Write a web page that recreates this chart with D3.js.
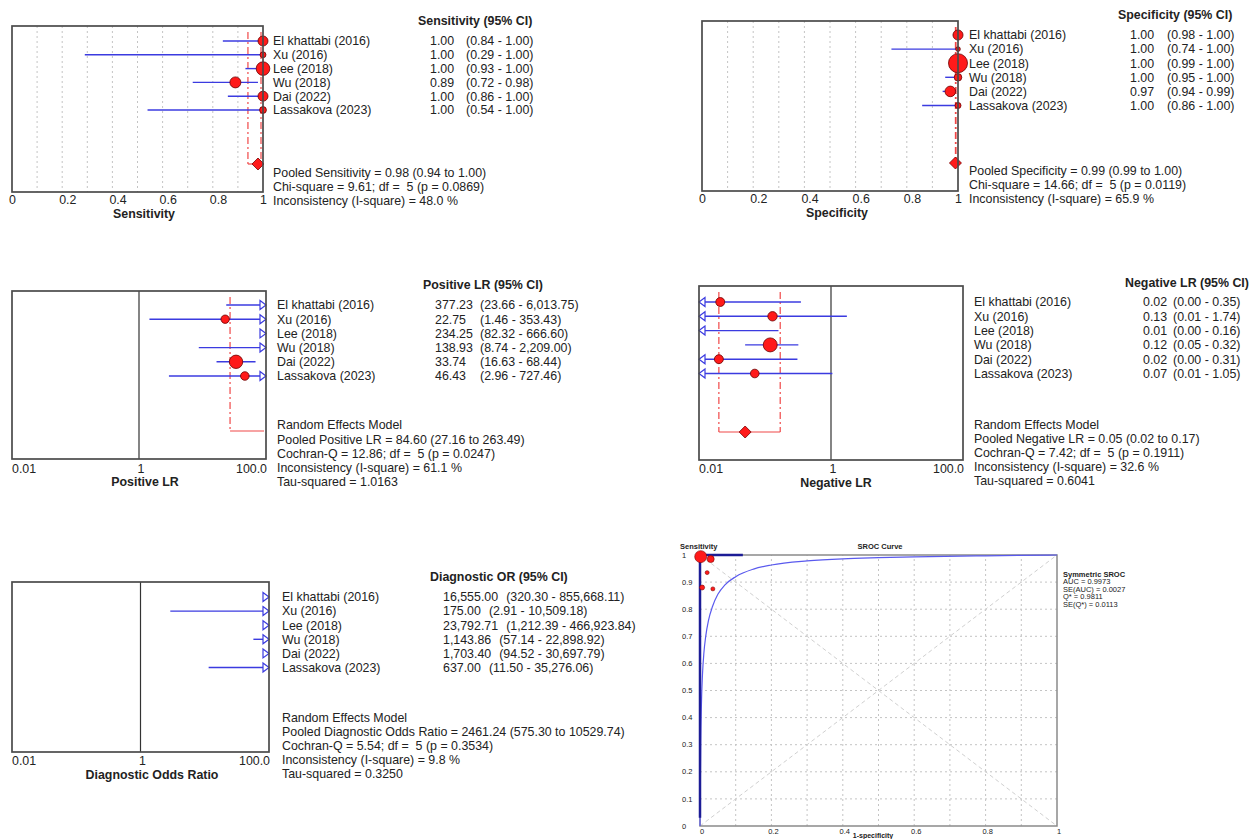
<!DOCTYPE html>
<html>
<head>
<meta charset="utf-8">
<script src="https://cdn.jsdelivr.net/npm/d3@7"></script>
<style>
  body { margin: 0; background: #fff; }
  svg text { font-family: Arial, "Liberation Sans", sans-serif; fill: #222; white-space: pre; }
</style>
</head>
<body>
<div id="chart"></div>
<script>
// studies, top to bottom in every forest plot
var studies = ["El khattabi (2016)", "Xu (2016)", "Lee (2018)", "Wu (2018)", "Dai (2022)", "Lassakova (2023)"];

// sensitivity
var sensEst = [1.00, 1.00, 1.00, 0.89, 1.00, 1.00];
var sensLo  = [0.84, 0.29, 0.93, 0.72, 0.86, 0.54];
var sensHi  = [1.00, 1.00, 1.00, 0.98, 1.00, 1.00];
var sensWt  = [54, 19, 100, 65, 54, 25];
var sensPool = [0.98, 0.94, 1.00];
var sensStats = ["Pooled Sensitivity = 0.98 (0.94 to 1.00)", "Chi-square = 9.61; df =  5 (p = 0.0869)", "Inconsistency (I-square) = 48.0 %"];

// specificity
var specEst = [1.00, 1.00, 1.00, 1.00, 0.97, 1.00];
var specLo  = [0.98, 0.74, 0.99, 0.95, 0.94, 0.86];
var specHi  = [1.00, 1.00, 1.00, 1.00, 0.99, 1.00];
var specWt  = [28, 6, 100, 16, 31, 10];
var specPool = [0.99, 0.99, 1.00];
var specStats = ["Pooled Specificity = 0.99 (0.99 to 1.00)", "Chi-square = 14.66; df =  5 (p = 0.0119)", "Inconsistency (I-square) = 65.9 %"];

// positive likelihood ratio
var plrEst = [377.23, 22.75, 234.25, 138.93, 33.74, 46.43];
var plrLo  = [23.66, 1.46, 82.32, 8.74, 16.63, 2.96];
var plrHi  = [6013.75, 353.43, 666.60, 2209.00, 68.44, 727.46];
var plrWt  = [20, 39, 60, 30, 100, 41];
var plrPool = [84.60, 27.16, 263.49];
var plrStats = ["Random Effects Model", "Pooled Positive LR = 84.60 (27.16 to 263.49)", "Cochran-Q = 12.86; df =  5 (p = 0.0247)", "Inconsistency (I-square) = 61.1 %", "Tau-squared = 1.0163"];

// negative likelihood ratio
var nlrEst = [0.021, 0.13, 0.007, 0.12, 0.02, 0.07];
var nlrLo  = [0.001, 0.008, 0.0004, 0.05, 0.001, 0.008];
var nlrHi  = [0.35, 1.74, 0.16, 0.32, 0.31, 1.05];
var nlrWt  = [41, 45, 20, 100, 41, 38];
var nlrPool = [0.05, 0.02, 0.17];
var nlrStats = ["Random Effects Model", "Pooled Negative LR = 0.05 (0.02 to 0.17)", "Cochran-Q = 7.42; df =  5 (p = 0.1911)", "Inconsistency (I-square) = 32.6 %", "Tau-squared = 0.6041"];

// diagnostic odds ratio
var dorEst = [16555.00, 175.00, 23792.71, 1143.86, 1703.40, 637.00];
var dorLo  = [320.30, 2.91, 1212.39, 57.14, 94.52, 11.50];
var dorHi  = [855668.11, 10509.18, 466923.84, 22898.92, 30697.79, 35276.06];
var dorWt  = [30, 30, 30, 30, 30, 30];
var dorPool = [2461.24, 575.30, 10529.74];
var dorStats = ["Random Effects Model", "Pooled Diagnostic Odds Ratio = 2461.24 (575.30 to 10529.74)", "Cochran-Q = 5.54; df =  5 (p = 0.3534)", "Inconsistency (I-square) = 9.8 %", "Tau-squared = 0.3250"];

var linTicks = [0, 0.2, 0.4, 0.6, 0.8, 1];
var linTickLabels = ["0", "0.2", "0.4", "0.6", "0.8", "1"];
var logTicks = [0.01, 1, 100];
var logTickLabels = ["0.01", "1", "100.0"];

// SROC
var srocFpr = [0.002, 0.03, 0.02, 0.006, 0.036];
var srocTpr = [0.994, 0.985, 0.935, 0.88, 0.875];
var srocWt  = [100, 34, 11, 17, 11];
var curveFpr = [0, 0.001, 0.002, 0.004, 0.007, 0.011, 0.016, 0.024, 0.035, 0.05, 0.07, 0.1, 0.15, 0.2, 0.3, 0.4, 0.5, 0.6, 0.8, 1.0];
var curveTpr = [0, 0.15, 0.3, 0.45, 0.56, 0.64, 0.70, 0.76, 0.81, 0.855, 0.89, 0.92, 0.948, 0.963, 0.978, 0.986, 0.99, 0.993, 0.997, 1.0];
var edgeFpr = [0, 0, 0.12];
var edgeTpr = [0.03, 1, 1];
var srocXTicks = [0, 0.2, 0.4, 0.6, 0.8, 1];
var srocXLabels = ["0", "0.2", "0.4", "0.6", "0.8", "1"];
var srocYTicks = [0, 0.1, 0.2, 0.3, 0.4, 0.5, 0.6, 0.7, 0.8, 0.9, 1];
var srocYLabels = ["0", "0.1", "0.2", "0.3", "0.4", "0.5", "0.6", "0.7", "0.8", "0.9", "1"];
var srocStats = ["Symmetric SROC", "AUC = 0.9973", "SE(AUC) = 0.0027", "Q* = 0.9811", "SE(Q*) = 0.0113"];

var blue = "#3b3be0", red = "#ff1a1a", redLine = "#f04848", boxCol = "#4a4a4a";
var fs = "12.4px";

var svg = d3.select("#chart").append("svg")
    .attr("width", 1260)
    .attr("height", 839);

function forest(p) {
  var g = svg.append("g");
  var x = (p.log ? d3.scaleLog() : d3.scaleLinear()).domain(p.domain).range([p.x0, p.x1]);
  var dmin = p.domain[0], dmax = p.domain[1];
  var r = d3.scaleSqrt().domain([0, 100]).range([0, p.rmax]);
  var rowY = function(i) { return p.rowTop + i * p.rowStep; };
  var clamp = function(v) { return Math.max(dmin, Math.min(dmax, v)); };

  // dotted grid on the proportion plots
  if (p.grid) {
    g.selectAll("line.grid").data(d3.range(1, 10).map(function(d) { return d / 10; }))
      .join("line").attr("class", "grid")
      .attr("x1", function(d) { return x(d); }).attr("x2", function(d) { return x(d); })
      .attr("y1", p.y0).attr("y2", p.y1)
      .attr("stroke", "#c4c4c4").attr("stroke-dasharray", "2,3");
  }
  // line of no effect
  if (p.log) {
    g.append("line").attr("x1", x(1)).attr("x2", x(1)).attr("y1", p.y0).attr("y2", p.y1)
      .attr("stroke", "#333").attr("stroke-width", 1.2);
  }

  // pooled estimate bracket
  var pl = p.pool;
  if (pl[1] <= dmax) {
    [pl[1], pl[2]].forEach(function(v) {
      if (v >= dmin && v <= dmax) {
        g.append("line").attr("x1", x(v) - (v == dmax ? 2 : 0)).attr("x2", x(v) - (v == dmax ? 2 : 0))
          .attr("y1", p.y0 + 6).attr("y2", p.bracketY)
          .attr("stroke", redLine).attr("stroke-width", 1.2).attr("stroke-dasharray", "7,3,2,3");
      }
    });
    g.append("line").attr("x1", x(clamp(pl[1]))).attr("x2", x(clamp(pl[2])) - (pl[2] >= dmax ? 2 : 0))
      .attr("y1", p.bracketY).attr("y2", p.bracketY)
      .attr("stroke", redLine).attr("stroke-width", 1.2);
    if (pl[1] >= dmin && pl[2] <= dmax) {
      var cx = x(pl[0]), cy = p.bracketY, d = 6;
      g.append("path")
        .attr("d", "M" + (cx - d) + "," + cy + "L" + cx + "," + (cy - d) + "L" + (cx + d) + "," + cy + "L" + cx + "," + (cy + d) + "Z")
        .attr("fill", red).attr("stroke", "#7a0000").attr("stroke-width", 0.8);
    }
  }

  // study confidence intervals, arrows and points
  studies.forEach(function(s, i) {
    var y = rowY(i);
    var a = x(clamp(p.lo[i])), b = x(clamp(p.hi[i]));
    if (b > a) {
      g.append("line").attr("x1", a).attr("x2", b).attr("y1", y).attr("y2", y)
        .attr("stroke", blue).attr("stroke-width", 1.4);
    }
    if (p.hi[i] > dmax) {
      var t = x(dmax);
      g.append("path").attr("d", "M" + (t - 6) + "," + (y - 4.5) + "L" + t + "," + y + "L" + (t - 6) + "," + (y + 4.5) + "Z")
        .attr("fill", "#fff").attr("stroke", blue).attr("stroke-width", 1.2);
    }
    if (p.lo[i] < dmin) {
      var t2 = x(dmin);
      g.append("path").attr("d", "M" + (t2 + 6) + "," + (y - 4.5) + "L" + t2 + "," + y + "L" + (t2 + 6) + "," + (y + 4.5) + "Z")
        .attr("fill", "#fff").attr("stroke", blue).attr("stroke-width", 1.2);
    }
    if (p.est[i] >= dmin && p.est[i] <= dmax) {
      g.append("circle").attr("cx", x(p.est[i])).attr("cy", y).attr("r", r(p.wt[i]))
        .attr("fill", red).attr("stroke", "#6a0000").attr("stroke-width", 0.8);
    }
  });

  g.append("rect").attr("x", p.x0).attr("y", p.y0)
    .attr("width", p.x1 - p.x0).attr("height", p.y1 - p.y0)
    .attr("fill", "none").attr("stroke", boxCol).attr("stroke-width", 1.7);

  // tick labels
  p.ticks.forEach(function(t, i) {
    var lab = g.append("text").attr("y", p.tickY).attr("dy", "0.35em").style("font-size", fs).text(p.tickLabels[i]);
    if (p.log) {
      if (i == 0) lab.attr("x", x(t)).attr("text-anchor", "start");
      else if (i == p.ticks.length - 1) lab.attr("x", x(t) + 1).attr("text-anchor", "end");
      else lab.attr("x", x(t) + 2).attr("text-anchor", "middle");
    } else {
      lab.attr("x", x(t) - 3).attr("text-anchor", "start");
    }
  });
  g.append("text").attr("x", p.titleX).attr("y", p.titleY).attr("dy", "0.35em")
    .attr("text-anchor", "middle").style("font-size", fs).style("font-weight", "bold").text(p.title);

  // table at the right
  g.append("text").attr("x", p.headX).attr("y", p.headY).attr("dy", "0.35em")
    .style("font-size", fs).style("font-weight", "bold").text(p.header);
  studies.forEach(function(s, i) {
    var y = rowY(i);
    g.append("text").attr("x", p.labelX).attr("y", y).attr("dy", "0.35em").style("font-size", fs).text(s);
    var ci = "(" + p.fmt(p.lo[i]) + " - " + p.fmt(p.hi[i]) + ")";
    if (p.ciX) {
      g.append("text").attr("x", p.valX).attr("y", y).attr("dy", "0.35em").style("font-size", fs).text(p.fmt(p.est[i]));
      g.append("text").attr("x", p.ciX).attr("y", y).attr("dy", "0.35em").style("font-size", fs).text(ci);
    } else {
      var tx = g.append("text").attr("x", p.valX).attr("y", y).attr("dy", "0.35em").style("font-size", fs);
      tx.append("tspan").text(p.fmt(p.est[i]));
      tx.append("tspan").attr("dx", p.ciGap).text(ci);
    }
  });
  p.stats.forEach(function(s, i) {
    g.append("text").attr("x", p.labelX).attr("y", p.statTop + i * p.statStep).attr("dy", "0.35em")
      .style("font-size", fs).text(s);
  });
}

var f2 = d3.format(".2f"), fc = d3.format(",.2f");

forest({x0: 12, x1: 263, y0: 26, y1: 192, domain: [0, 1], log: false, grid: true,
  rowTop: 41, rowStep: 13.8, bracketY: 164, rmax: 6.8,
  est: sensEst, lo: sensLo, hi: sensHi, wt: sensWt, pool: sensPool,
  ticks: linTicks, tickLabels: linTickLabels, tickY: 200, title: "Sensitivity", titleX: 144, titleY: 214,
  header: "Sensitivity (95% CI)", headX: 418, headY: 21, labelX: 273, valX: 430, ciX: 466, fmt: f2,
  stats: sensStats, statTop: 173, statStep: 14});

forest({x0: 702, x1: 958, y0: 21, y1: 191, domain: [0, 1], log: false, grid: true,
  rowTop: 35, rowStep: 14.1, bracketY: 163, rmax: 9.5,
  est: specEst, lo: specLo, hi: specHi, wt: specWt, pool: specPool,
  ticks: linTicks, tickLabels: linTickLabels, tickY: 199, title: "Specificity", titleX: 837, titleY: 213,
  header: "Specificity (95% CI)", headX: 1118, headY: 15, labelX: 969, valX: 1130, ciX: 1167, fmt: f2,
  stats: specStats, statTop: 171, statStep: 14});

forest({x0: 12, x1: 266, y0: 291, y1: 459, domain: [0.01, 100], log: true, grid: false,
  rowTop: 305, rowStep: 14.2, bracketY: 431, rmax: 6.7,
  est: plrEst, lo: plrLo, hi: plrHi, wt: plrWt, pool: plrPool,
  ticks: logTicks, tickLabels: logTickLabels, tickY: 469, title: "Positive LR", titleX: 145, titleY: 482,
  header: "Positive LR (95% CI)", headX: 423, headY: 285, labelX: 277, valX: 435, ciX: 480, fmt: fc,
  stats: plrStats, statTop: 425, statStep: 14.2});

forest({x0: 699, x1: 963, y0: 286, y1: 460, domain: [0.01, 100], log: true, grid: false,
  rowTop: 302, rowStep: 14.3, bracketY: 432, rmax: 7,
  est: nlrEst, lo: nlrLo, hi: nlrHi, wt: nlrWt, pool: nlrPool,
  ticks: logTicks, tickLabels: logTickLabels, tickY: 469, title: "Negative LR", titleX: 836, titleY: 483,
  header: "Negative LR (95% CI)", headX: 1125, headY: 283, labelX: 974, valX: 1143, ciX: 1173, fmt: f2,
  stats: nlrStats, statTop: 425, statStep: 14});

forest({x0: 12, x1: 269, y0: 582, y1: 752, domain: [0.01, 100], log: true, grid: false,
  rowTop: 597, rowStep: 14.1, bracketY: 725, rmax: 6,
  est: dorEst, lo: dorLo, hi: dorHi, wt: dorWt, pool: dorPool,
  ticks: logTicks, tickLabels: logTickLabels, tickY: 761, title: "Diagnostic Odds Ratio", titleX: 152, titleY: 775,
  header: "Diagnostic OR (95% CI)", headX: 430, headY: 577, labelX: 282, valX: 443, ciGap: 8, fmt: fc,
  stats: dorStats, statTop: 718, statStep: 14});

// ---- SROC curve ----
var sx = d3.scaleLinear().domain([0, 1]).range([700, 1057]);
var sy = d3.scaleLinear().domain([0, 1]).range([826, 555]);
var sg = svg.append("g");
var gridV = d3.range(1, 10).map(function(d) { return d / 10; });

sg.selectAll("line.gx").data(gridV).join("line").attr("class", "gx")
  .attr("x1", function(d) { return sx(d); }).attr("x2", function(d) { return sx(d); })
  .attr("y1", sy(0)).attr("y2", sy(1))
  .attr("stroke", "#c4c4c4").attr("stroke-dasharray", "2,3");
sg.selectAll("line.gy").data(gridV).join("line").attr("class", "gy")
  .attr("y1", function(d) { return sy(d); }).attr("y2", function(d) { return sy(d); })
  .attr("x1", sx(0)).attr("x2", sx(1))
  .attr("stroke", "#c4c4c4").attr("stroke-dasharray", "2,3");
// diagonals
sg.append("line").attr("x1", sx(0)).attr("y1", sy(0)).attr("x2", sx(1)).attr("y2", sy(1))
  .attr("stroke", "#d0d0d0").attr("stroke-dasharray", "4,3");
sg.append("line").attr("x1", sx(0)).attr("y1", sy(1)).attr("x2", sx(1)).attr("y2", sy(0))
  .attr("stroke", "#d0d0d0").attr("stroke-dasharray", "4,3");

sg.append("rect").attr("x", sx(0)).attr("y", sy(1)).attr("width", sx(1) - sx(0)).attr("height", sy(0) - sy(1))
  .attr("fill", "none").attr("stroke", "#8a8a8a").attr("stroke-width", 1.5);

var curve = d3.line()
    .x(function(d) { return sx(d[0]); })
    .y(function(d) { return sy(d[1]); })
    .curve(d3.curveMonotoneX);
sg.append("path").attr("d", curve(d3.zip(curveFpr, curveTpr)))
  .attr("fill", "none").attr("stroke", "#5a5aee").attr("stroke-width", 1.2);
sg.append("path").attr("d", d3.line().x(function(d) { return sx(d[0]); }).y(function(d) { return sy(d[1]); })(d3.zip(edgeFpr, edgeTpr)))
  .attr("fill", "none").attr("stroke", "#1c1c96").attr("stroke-width", 2.5);

var sr = d3.scaleSqrt().domain([0, 100]).range([0, 6]);
sg.selectAll("circle").data(d3.range(srocFpr.length)).join("circle")
  .attr("cx", function(i) { return sx(srocFpr[i]); })
  .attr("cy", function(i) { return sy(srocTpr[i]); })
  .attr("r", function(i) { return sr(srocWt[i]); })
  .attr("fill", red).attr("stroke", "#7a0000").attr("stroke-width", 0.6);

srocYTicks.forEach(function(t, i) {
  sg.append("text").attr("x", 682).attr("y", sy(t)).attr("dy", "0.35em")
    .style("font-size", "7.5px").text(srocYLabels[i]);
});
srocXTicks.forEach(function(t, i) {
  sg.append("text").attr("x", sx(t) + 2).attr("y", 831).attr("dy", "0.35em").attr("text-anchor", "middle")
    .style("font-size", "7.5px").text(srocXLabels[i]);
});
sg.append("text").attr("x", 680).attr("y", 546).attr("dy", "0.35em")
  .style("font-size", "7.5px").style("font-weight", "bold").text("Sensitivity");
sg.append("text").attr("x", 880).attr("y", 546).attr("dy", "0.35em").attr("text-anchor", "middle")
  .style("font-size", "7.5px").style("font-weight", "bold").text("SROC Curve");
sg.append("text").attr("x", 873).attr("y", 835.5).attr("dy", "0.35em").attr("text-anchor", "middle")
  .style("font-size", "7px").style("font-weight", "bold").text("1-specificity");
srocStats.forEach(function(s, i) {
  sg.append("text").attr("x", 1063).attr("y", 574 + i * 7.6).attr("dy", "0.35em")
    .style("font-size", "7.5px").style("font-weight", i == 0 ? "bold" : "normal").text(s);
});
</script>
</body>
</html>
